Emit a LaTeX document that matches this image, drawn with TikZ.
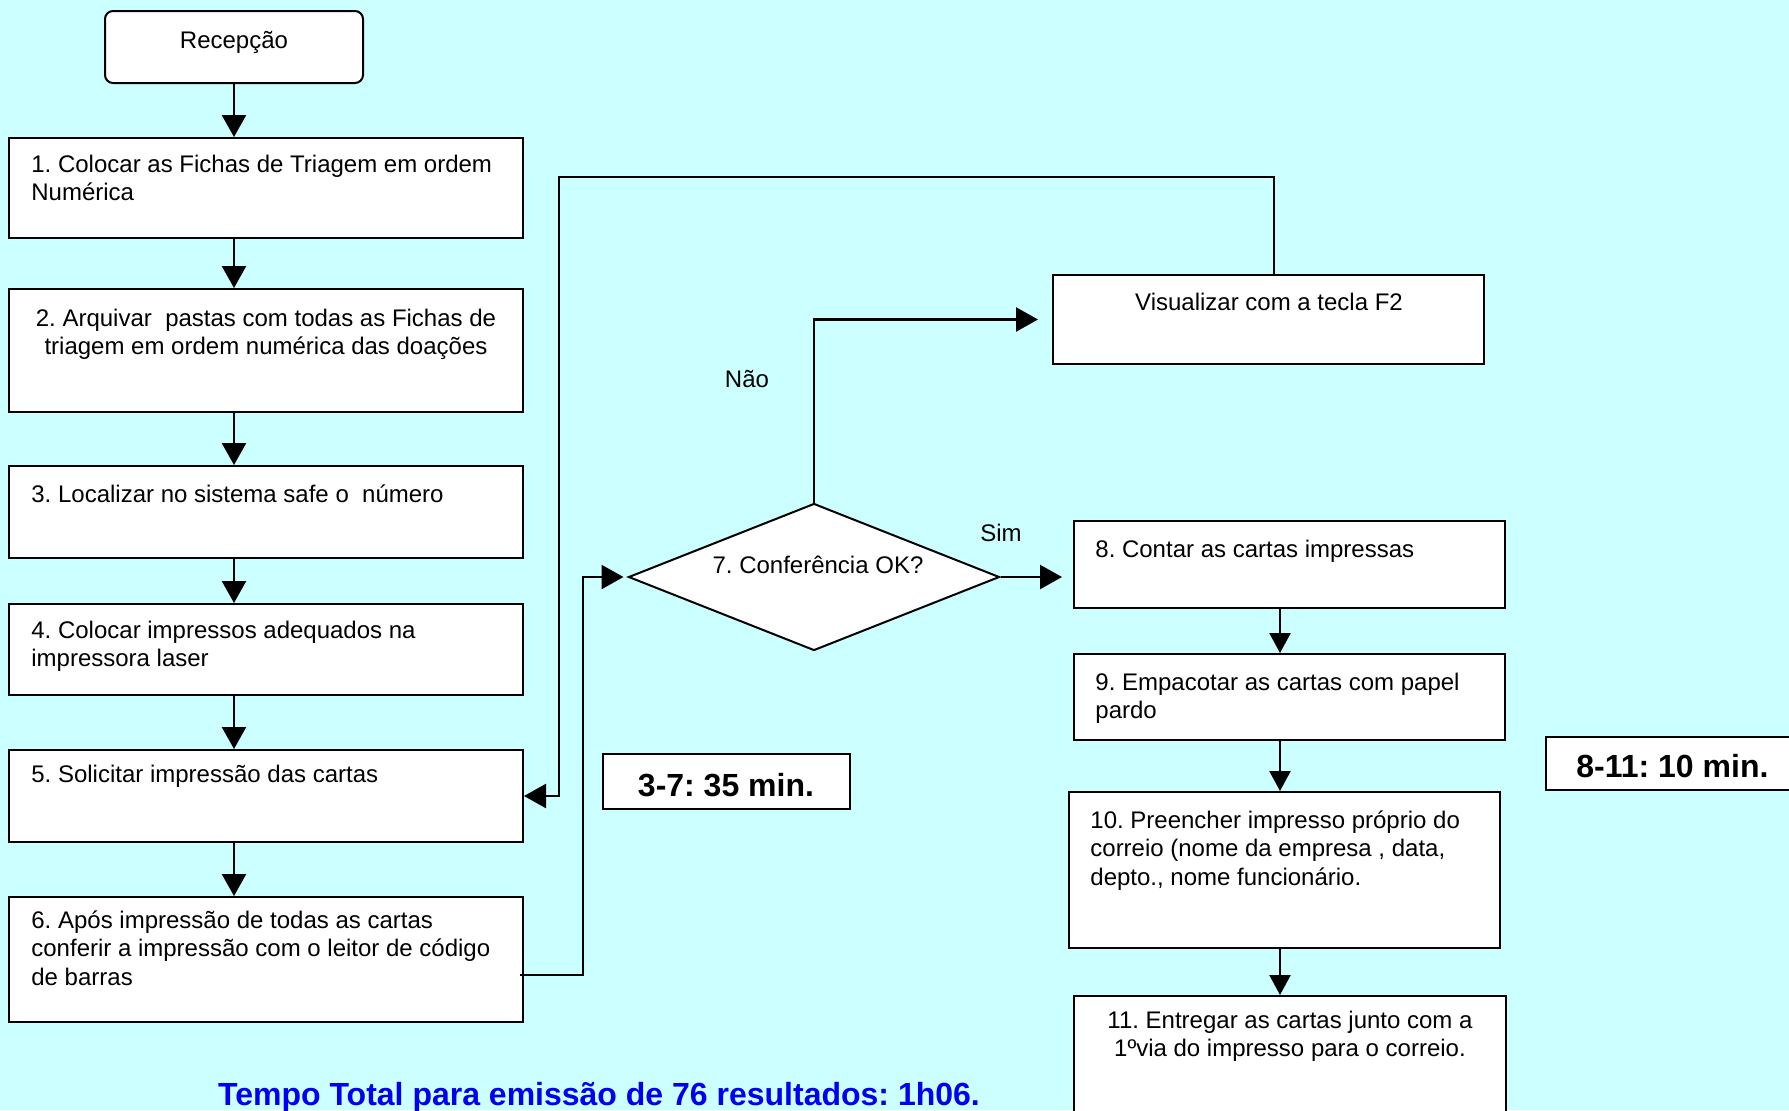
\documentclass[tikz,border=0pt]{standalone}
\usepackage{fontspec}
\setmainfont{Liberation Sans}
\usetikzlibrary{arrows.meta,shapes.geometric,calc}
\definecolor{bgcyan}{RGB}{204,255,255}
\definecolor{tblue}{RGB}{0,0,240}
\frenchspacing
\tikzset{
  box/.style={draw=black, fill=white, line width=1pt, inner sep=0pt, rectangle},
  rbox/.style={box, rounded corners=4pt},
  txt/.style={font=\frenchspacing\fontsize{12}{14.25}\selectfont, inner sep=0pt, align=left, anchor=north west},
  ctxt/.style={font=\frenchspacing\fontsize{12}{14.25}\selectfont, inner sep=0pt, align=center, anchor=north},
  btxt/.style={font=\frenchspacing\bfseries\fontsize{16}{19}\selectfont, inner sep=0pt},
  ltxt/.style={font=\frenchspacing\fontsize{12}{14.25}\selectfont, inner sep=0pt, anchor=base},
  conn/.style={line width=1.2pt, -{Triangle[length=11pt,width=12pt]}},
  connb/.style={line width=1.2pt, -{Triangle[length=10pt,width=10.5pt]}}
}
\begin{document}
\begin{tikzpicture}[x=0.5pt,y=-0.5pt]
\fill[bgcyan] (0,0) rectangle (1789,1110);
\useasboundingbox (0,0) rectangle (1789,1110);
\clip (0,0) rectangle (1789,1110);

% left column
\node[rbox, minimum width=129pt, minimum height=36pt] (rec) at (234,47) {};
\node[ctxt] (trec) at (234,28) {\strut Recepção};

\node[box, minimum width=257pt, minimum height=50pt] (b1) at (266,188) {};
\node[txt] (t1) at (31,152) {\strut 1. Colocar as Fichas de Triagem em ordem\\Numérica};

\node[box, minimum width=257pt, minimum height=61.5pt] (b2) at (266,350.5) {};
\node[ctxt] (t2) at (266,306) {\strut 2. Arquivar~ pastas com todas as Fichas de\\triagem em ordem numérica das doações};

\node[box, minimum width=257pt, minimum height=46pt] (b3) at (266,512) {};
\node[txt] (t3) at (31,482) {\strut 3. Localizar no sistema safe o~ número};

\node[box, minimum width=257pt, minimum height=45.5pt] (b4) at (266,649.5) {};
\node[txt] (t4) at (31,618) {\strut 4. Colocar impressos adequados na\\impressora laser};

\node[box, minimum width=257pt, minimum height=46pt] (b5) at (266,796) {};
\node[txt] (t5) at (31,762) {\strut 5. Solicitar impressão das cartas};

\node[box, minimum width=257pt, minimum height=62.5pt] (b6) at (266,959.5) {};
\node[txt] (t6) at (31,908) {\strut 6. Após impressão de todas as cartas\\conferir a impressão com o leitor de código\\de barras};

% decision and check
\node[diamond, draw=black, fill=white, line width=1pt, minimum width=185.5pt, minimum height=73.5pt, inner sep=0pt] (dia) at (814,577) {};
\node[ltxt] (tdia) at (818,573) {7. Conferência OK?};

\node[box, minimum width=215.5pt, minimum height=44.5pt] (vis) at (1268.5,319.5) {};
\node[ctxt] (tvis) at (1269,290) {\strut Visualizar com a tecla F2};

\node[ltxt] (nao) at (747,387) {Não};
\node[ltxt] (sim) at (1001,541) {Sim};

% right column
\node[box, minimum width=215.5pt, minimum height=43.5pt] (b8) at (1289.5,564.5) {};
\node[txt] (t8) at (1095,537) {\strut 8. Contar as cartas impressas};

\node[box, minimum width=215.5pt, minimum height=43pt] (b9) at (1289.5,697) {};
\node[txt] (t9) at (1095,670) {\strut 9. Empacotar as cartas com papel\\pardo};

\node[box, minimum width=215.5pt, minimum height=78pt] (b10) at (1284.5,870) {};
\node[txt] (t10) at (1090,808) {\strut 10. Preencher impresso próprio do\\correio (nome da empresa , data,\\depto., nome funcionário.};

\node[box, minimum width=216pt, minimum height=67pt] (b11) at (1290,1063) {};
\node[ctxt] (t11) at (1290,1008) {\strut 11. Entregar as cartas junto com a\\1ºvia do impresso para o correio.};

% time boxes
\node[box, minimum width=123.5pt, minimum height=27.5pt] (tb1) at (726.5,781.5) {};
\node[btxt, anchor=base] (ttb1) at (726,796) {3-7: 35 min.};
\node[box, minimum width=125.5pt, minimum height=26.5pt] (tb2) at (1671.5,763.5) {};
\node[btxt, anchor=base west] (ttb2) at (1576,777) {8-11: 10 min.};

\node[btxt, text=tblue, anchor=base] (total) at (599,1105) {Tempo Total para emissão de 76 resultados: 1h06.};

% connectors left column
\draw[conn] (rec.south) -- (rec.south |- b1.north);
\draw[conn] (rec.south |- b1.south) -- (rec.south |- b2.north);
\draw[conn] (rec.south |- b2.south) -- (rec.south |- b3.north);
\draw[conn] (rec.south |- b3.south) -- (rec.south |- b4.north);
\draw[conn] (rec.south |- b4.south) -- (rec.south |- b5.north);
\draw[conn] (rec.south |- b5.south) -- (rec.south |- b6.north);

% loop back from Visualizar to step 5
\coordinate (vtop) at ($(vis.north)+(5.5,0)$);
\coordinate (loopc) at (559,177);
\draw[conn] (vtop) |- (loopc) |- (b5.east);

% step 6 to decision
\coordinate (s6) at ($(b6.east)+(-4,15.5)$);
\coordinate (j6) at (583,975);
\draw[conn, shorten >=2pt] (s6) -- (j6) |- (dia.west);

% decision branches
\draw[conn, shorten >=7pt] (dia.north) |- (vis.west);
\draw[conn, shorten >=5.5pt] (dia.east) -- (dia.east -| b8.west);

% right column
\coordinate (rx) at (1280,0);
\draw[connb] (b8.south -| rx) -- (b9.north -| rx);
\draw[connb] (b9.south -| rx) -- (b10.north -| rx);
\draw[connb] (b10.south -| rx) -- (b11.north -| rx);
\end{tikzpicture}
\end{document}
